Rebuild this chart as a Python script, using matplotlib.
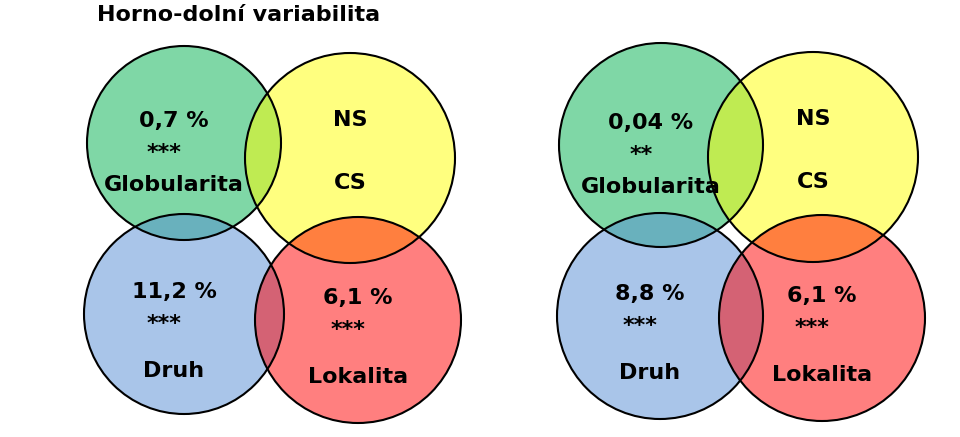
import matplotlib.pyplot as plt
from matplotlib.patches import Circle

# Data
factors = ["Globularita", "CS", "Druh", "Lokalita"]
left_values = ["0,7 %", "NS", "11,2 %", "6,1 %"]
left_signif = ["***", "", "***", "***"]
right_values = ["0,04 %", "NS", "8,8 %", "6,1 %"]
right_signif = ["**", "", "***", "***"]
colors = [(0, 0.69, 0.31), (1, 1, 0), (0.33, 0.55, 0.83), (1, 0, 0)]

fig = plt.figure(figsize=(9.6, 4.37), dpi=100)
ax = fig.add_axes([0, 0, 1, 1])
ax.set_xlim(0, 960)
ax.set_ylim(437, 0)
ax.set_aspect('equal')
ax.axis('off')

groups = [
    (left_values, left_signif, [(184, 143, 97), (350, 158, 105), (184, 314, 100), (358, 320, 103)]),
    (right_values, right_signif, [(661, 145, 102), (813, 157, 105), (660, 316, 103), (822, 318, 103)]),
]

fs = 16
for values, signif, circles in groups:
    for (cx, cy, r), c in zip(circles, colors):
        ax.add_patch(Circle((cx, cy), r, facecolor=c, alpha=0.5, edgecolor='none'))
    for (cx, cy, r) in circles:
        ax.add_patch(Circle((cx, cy), r, facecolor='none', edgecolor='black', lw=1.5))
    for i, ((cx, cy, r), v, s, f) in enumerate(zip(circles, values, signif, factors)):
        dx = -10 if i in (0, 2) else 0
        if i == 1:
            ax.text(cx, cy - 38, v, ha='center', va='center', fontsize=fs, fontweight='bold')
            ax.text(cx, cy + 25, f, ha='center', va='center', fontsize=fs, fontweight='bold')
        else:
            ax.text(cx + dx, cy - 22, v, ha='center', va='center', fontsize=fs, fontweight='bold')
            ax.text(cx + dx - 10, cy + 10, s, ha='center', va='center', fontsize=fs, fontweight='bold')
            ax.text(cx + dx, cy + 42 + (15 if i >= 2 else 0), f, ha='center', va='center',
                    fontsize=fs, fontweight='bold')

ax.text(97, 15, "Horno-dolní variabilita", ha='left', va='center', fontsize=16, fontweight='bold')

fig.savefig("out.png", dpi=100)
